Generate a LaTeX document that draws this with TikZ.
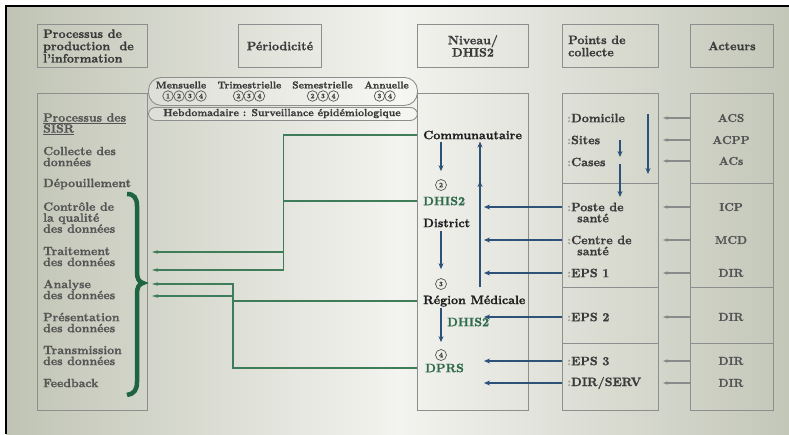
\documentclass[tikz,border=0pt]{standalone}
\usepackage{fontspec}
\newfontfamily\hvy{lmroman10-bold.otf}[FakeBold=1]
\usetikzlibrary{arrows.meta}
\definecolor{boxgray}{HTML}{8E8E8E}
\definecolor{txtdark}{HTML}{3A3A3A}
\definecolor{txtgray}{HTML}{555555}
\definecolor{txtblack}{HTML}{1E1E1E}
\definecolor{dgreen}{HTML}{2F6B4B}
\definecolor{lgreen}{HTML}{3E7C5A}
\definecolor{bracegreen}{HTML}{1E6440}
\definecolor{dblue}{HTML}{2C5277}
\definecolor{arrgray}{HTML}{8A8A8A}
\definecolor{numgray}{HTML}{555555}
\definecolor{colgray}{HTML}{A0A0A0}
\definecolor{bgl}{HTML}{C0C4B4}
\definecolor{bgm}{HTML}{F3F3EF}
\definecolor{bgr}{HTML}{C3C7B8}
\begin{document}
\begin{tikzpicture}[x=1pt,y=-1pt,
  box/.style={draw=boxgray, line width=0.9pt, inner sep=0pt, anchor=north west},
  hdr/.style={font=\fontsize{12.2}{12.3}\selectfont\hvy, text=txtdark, inner sep=0pt},
  lft/.style={font=\fontsize{12}{11}\selectfont\hvy, text=txtgray, inner sep=0pt, anchor=west, align=left},
  midt/.style={font=\fontsize{12.2}{12}\selectfont\hvy, text=txtblack, inner sep=0pt, anchor=west},
  midg/.style={midt, text=dgreen},
  pts/.style={font=\fontsize{12.2}{12}\selectfont\hvy, text=txtdark, inner sep=0pt, anchor=west},
  act/.style={font=\fontsize{11.5}{12}\selectfont\hvy, text=txtgray, inner sep=0pt},
  per/.style={font=\fontsize{10}{10}\selectfont\hvy, text=txtdark, inner sep=0pt},
  num/.style={circle, draw=numgray, line width=0.7pt, inner sep=0pt, minimum size=10.5pt, font=\fontsize{7}{7}\selectfont\hvy, text=txtdark},
  garrow/.style={draw=lgreen, line width=1.1pt, -{Stealth[length=6pt,width=3.5pt]}},
  barrow/.style={draw=dblue, line width=1.6pt, -{Stealth[length=6pt,width=5pt]}},
  grarrow/.style={draw=arrgray, line width=1.1pt, -{Stealth[length=5pt,width=3.5pt]}}
]
\useasboundingbox (0,0) rectangle (789,434);
\fill[white] (0,0) rectangle (789,434);
\shade[left color=bgl, right color=bgr, middle color=bgm] (6,6) rectangle (789,434);
\draw[line width=2.2pt, black] (6,434) -- (6,6) -- (789,6);

% header boxes
\node[box, minimum width=110pt, minimum height=43pt] (hProc) at (37,24) {};
\node[box, minimum width=83pt, minimum height=43pt] (hPer) at (238,24) {};
\node[box, minimum width=111pt, minimum height=43pt] (hNiv) at (417,24) {};
\node[box, minimum width=96pt, minimum height=43pt] (hPts) at (562,24) {};
\node[box, minimum width=83pt, minimum height=43pt] (hAct) at (690,24) {};
\node[hdr, anchor=west, align=left] (tProc) at (43,46) {Processus de\\production\ \ de\\l’information};
\node[hdr] (tPer) at (hPer.center) {Périodicité};
\node[hdr, align=center] (tNiv) at (hNiv.center) {Niveau/\\DHIS2};
\node[hdr, anchor=west, align=left] (tPts) at (568,46) {Points de\\collecte};
\node[hdr] (tAct) at (hAct.center) {Acteurs};

% main boxes
\node[box, minimum width=110pt, minimum height=317pt] (leftBox) at (37,93) {};
\node[box, minimum width=111pt, minimum height=317pt] (midBox) at (417,93) {};
\node[box, minimum width=96pt, minimum height=90pt] (ptsA) at (562,93) {};
\node[box, minimum width=96pt, minimum height=104pt] (ptsB) at (562,183) {};
\node[box, minimum width=96pt, minimum height=56pt] (ptsC) at (562,287) {};
\node[box, minimum width=96pt, minimum height=67pt] (ptsD) at (562,343) {};
\node[box, minimum width=83pt, minimum height=90pt] (actA) at (690,93) {};
\node[box, minimum width=83pt, minimum height=104pt] (actB) at (690,183) {};
\node[box, minimum width=83pt, minimum height=56pt] (actC) at (690,287) {};
\node[box, minimum width=83pt, minimum height=67pt] (actD) at (690,343) {};

% periodicity
\node[box, rounded corners=13pt, minimum width=269pt, minimum height=28pt, fill=white, fill opacity=0.25] (perBox) at (148,77) {};
\node[box, rounded corners=7pt, minimum width=269pt, minimum height=13pt, fill=white, fill opacity=0.25] (hebBox) at (148,107) {};
\node[per] (pMens) at (181,85) {Mensuelle};
\node[per] (pTrim) at (249.5,85) {Trimestrielle};
\node[per] (pSem) at (322.5,85) {Semestrielle};
\node[per] (pAnn) at (386.5,85) {Annuelle};
\node[num] (m1) at (168,96) {1};
\node[num] (m2) at (179,96) {2};
\node[num] (m3) at (190,96) {3};
\node[num] (m4) at (201,96) {4};
\node[num] (t2) at (238.5,96) {2};
\node[num] (t3) at (249,96) {3};
\node[num] (t4) at (259.5,96) {4};
\node[num] (s2) at (312.5,96) {2};
\node[num] (s3) at (323,96) {3};
\node[num] (s4) at (333.5,96) {4};
\node[num] (a3) at (379.5,96) {3};
\node[num] (a4) at (390,96) {4};
\node[per, font=\fontsize{10.3}{10}\selectfont\hvy] (tHeb) at (282,113.5) {Hebdomadaire : Surveillance épidémiologique};

% left column
\node[lft] (lSISR) at (43,124) {\underline{Processus des}\\\underline{SISR}};
\node[lft] (lColl) at (43,156.5) {Collecte des\\données};
\node[lft] (lDep) at (43,184) {Dépouillement};
\node[lft] (lCtrl) at (43,217.5) {Contrôle de\\la qualité\\des données};
\node[lft] (lTrait) at (43,256.5) {Traitement\\des données};
\node[lft] (lAna) at (43,289.5) {Analyse\\des données};
\node[lft] (lPres) at (43,322.5) {Présentation\\des données};
\node[lft] (lTrans) at (43,355.5) {Transmission\\des données};
\node[lft] (lFeed) at (43,383) {Feedback};
\draw[bracegreen, line width=4.5pt]
  (127,194) .. controls (134,194) and (137,198) .. (137,206) -- (137,272)
  .. controls (137,279) and (139,282) .. (143,283)
  .. controls (139,284) and (137,287) .. (137,294) -- (137,382)
  .. controls (137,390) and (134,394) .. (127,395);

% middle column
\node[midt] (tComm) at (423,135) {Communautaire};
\node[num, minimum size=11pt] (c2) at (441,185) {2};
\node[midg] (tDh1) at (423,201) {DHIS2};
\node[midt] (tDist) at (423,223) {District};
\node[num, minimum size=11pt] (c3) at (441,284) {3};
\node[midt] (tReg) at (423,301) {Région Médicale};
\node[midg] (tDh2) at (447,322) {DHIS2};
\node[num, minimum size=11pt] (c4) at (441,355) {4};
\node[midg] (tDPRS) at (425,368) {DPRS};
\draw[barrow, shorten <=2pt, shorten >=8pt] (tComm.south -| c2) -- (c2.north);
\draw[barrow, shorten <=4pt, shorten >=9pt] (tDist.south -| c3) -- (c3.north);
\draw[barrow, shorten <=1pt, shorten >=7pt] (tReg.south -| c4) -- (c4.north);
\coordinate (upS) at (480,287);
\coordinate (upM) at (480,181);
\coordinate (tipX) at (484,287);
\draw[barrow, shorten >=2pt] (upS) -- (tComm.south -| upS);
\draw[barrow] (upS) -- (upM);

% points de collecte
\node[pts] (pDom) at (567,118) {\textcolor{colgray}{:}Domicile};
\node[pts] (pSites) at (567,140) {\textcolor{colgray}{:}Sites};
\node[pts] (pCases) at (567,162) {\textcolor{colgray}{:}Cases};
\node[pts] (pPoste) at (567,207) {\textcolor{colgray}{:}Poste de};
\node[pts] (pPoste2) at (577,218) {santé};
\node[pts] (pCentre) at (567,240) {\textcolor{colgray}{:}Centre de};
\node[pts] (pCentre2) at (577,251) {santé};
\node[pts] (pEPS1) at (567,273) {\textcolor{colgray}{:}EPS 1};
\node[pts] (pEPS2) at (567,317) {\textcolor{colgray}{:}EPS 2};
\node[pts] (pEPS3) at (567,361) {\textcolor{colgray}{:}EPS 3};
\node[pts] (pDir) at (567,383) {\textcolor{colgray}{:}DIR/SERV};
\coordinate (domT) at (648,114);
\coordinate (domB) at (648,174);
\coordinate (sitT) at (620,140);
\coordinate (sitB) at (620,157);
\coordinate (casT) at (620,164);
\coordinate (casB) at (620,197);
\draw[barrow] (domT) -- (domB);
\draw[barrow] (sitT) -- (sitB);
\draw[barrow] (casT) -- (casB);
\foreach \r in {pPoste,pCentre,pEPS1,pEPS2,pEPS3,pDir}
  \draw[barrow] (ptsB.west |- \r) -- (tipX |- \r);

% acteurs
\node[act] (aACS) at (731,118) {ACS};
\node[act] (aACPP) at (731,140) {ACPP};
\node[act] (aACs) at (731,161) {ACs};
\node[act] (aICP) at (731,207) {ICP};
\node[act] (aMCD) at (731,240) {MCD};
\node[act] (aDIR1) at (731,273) {DIR};
\node[act] (aDIR2) at (731,317) {DIR};
\node[act] (aDIR3) at (731,361) {DIR};
\node[act] (aDIR4) at (731,383) {DIR};
\foreach \r in {aACS,aACPP,aACs,aICP,aMCD,aDIR1,aDIR2,aDIR3,aDIR4}
  \draw[grarrow, shorten >=4pt] (actA.west |- \r) -- (ptsA.east |- \r);

% green connectors
\coordinate (jA) at (283.5,250);
\coordinate (jB) at (233,300);
\coordinate (g1) at (152,252);
\coordinate (g2) at (152,270);
\coordinate (g3) at (152,284);
\coordinate (g4) at (152,296);
\draw[garrow] (midBox.west |- tComm) -| (jA |- g1) -- (g1);
\draw[garrow] (midBox.west |- tDh1) -| (jA |- g2) -- (g2);
\draw[garrow] (midBox.west |- tDPRS) -| (jB |- g3) -- (g3);
\draw[garrow] (midBox.west |- tReg) -| (jB |- g4) -- (g4);
\end{tikzpicture}
\end{document}
